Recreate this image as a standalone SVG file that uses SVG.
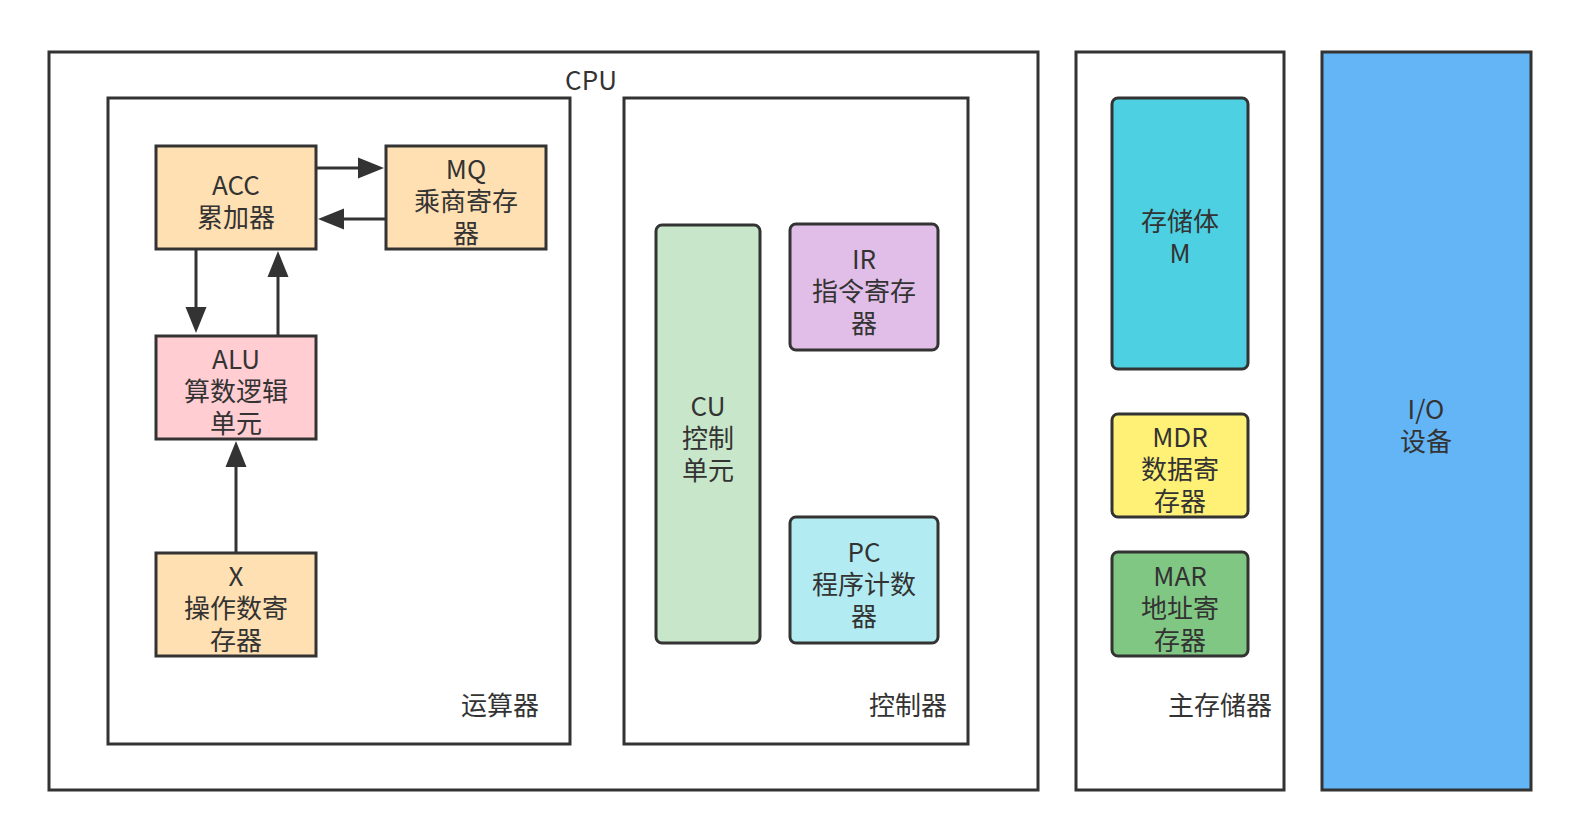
<svg xmlns="http://www.w3.org/2000/svg" width="1580" height="840" viewBox="0 0 1580 840">
<defs>
<style>
.box{stroke:#333333;stroke-width:3;}
.lbl{font-family:"Noto Sans CJK SC","Noto Sans",sans-serif;font-size:26px;fill:#333333;text-anchor:middle;}
.cap{font-family:"Noto Sans CJK SC","Noto Sans",sans-serif;font-size:26px;fill:#333333;}
.edge{stroke:#333333;stroke-width:3;fill:none;marker-end:url(#arr);}
</style>
<marker id="arr" markerUnits="userSpaceOnUse" markerWidth="30" markerHeight="24" viewBox="0 -12 30 24" refX="0" refY="0" orient="auto">
<path d="M0,-10.5 L26,0 L0,10.5 Z" fill="#333333"/>
</marker>
</defs>
<rect width="1580" height="840" fill="#ffffff"/>

<g id="cpu">
<rect class="box" x="49" y="52" width="989" height="738" fill="#ffffff"/>
<text class="lbl" x="591" y="90">CPU</text>
</g>

<g id="alu-unit">
<rect class="box" x="108" y="98" width="462" height="646" fill="#ffffff"/>
<text class="cap" x="539" y="715" text-anchor="end">运算器</text>
</g>

<g id="ctrl-unit">
<rect class="box" x="624" y="98" width="344" height="646" fill="#ffffff"/>
<text class="cap" x="947" y="715" text-anchor="end">控制器</text>
</g>

<g id="main-memory">
<rect class="box" x="1076" y="52" width="208" height="738" fill="#ffffff"/>
<text class="cap" x="1272" y="715" text-anchor="end">主存储器</text>
</g>

<g id="io">
<rect class="box" x="1322" y="52" width="209" height="738" fill="#64b5f6"/>
<text class="lbl" x="1426" y="419">I/O<tspan x="1426" dy="32">设备</tspan></text>
</g>

<g id="acc">
<rect class="box" x="156" y="146" width="160" height="103" fill="#ffe0b2"/>
<text class="lbl" x="236" y="195">ACC<tspan x="236" dy="32">累加器</tspan></text>
</g>

<g id="mq">
<rect class="box" x="386" y="146" width="160" height="103" fill="#ffe0b2"/>
<text class="lbl" x="466" y="179">MQ<tspan x="466" dy="32">乘商寄存</tspan><tspan x="466" dy="32">器</tspan></text>
</g>

<g id="alu">
<rect class="box" x="156" y="336" width="160" height="103" fill="#ffcdd2"/>
<text class="lbl" x="236" y="369">ALU<tspan x="236" dy="32">算数逻辑</tspan><tspan x="236" dy="32">单元</tspan></text>
</g>

<g id="x">
<rect class="box" x="156" y="553" width="160" height="103" fill="#ffe0b2"/>
<text class="lbl" x="236" y="586">X<tspan x="236" dy="32">操作数寄</tspan><tspan x="236" dy="32">存器</tspan></text>
</g>

<g id="cu">
<rect class="box" x="656" y="225" width="104" height="418" rx="6" fill="#c8e6c9"/>
<text class="lbl" x="708" y="416">CU<tspan x="708" dy="32">控制</tspan><tspan x="708" dy="32">单元</tspan></text>
</g>

<g id="ir">
<rect class="box" x="790" y="224" width="148" height="126" rx="6" fill="#e1bee7"/>
<text class="lbl" x="864" y="269">IR<tspan x="864" dy="32">指令寄存</tspan><tspan x="864" dy="32">器</tspan></text>
</g>

<g id="pc">
<rect class="box" x="790" y="517" width="148" height="126" rx="6" fill="#b2ebf2"/>
<text class="lbl" x="864" y="562">PC<tspan x="864" dy="32">程序计数</tspan><tspan x="864" dy="32">器</tspan></text>
</g>

<g id="storage">
<rect class="box" x="1112" y="98" width="136" height="271" rx="6" fill="#4dd0e1"/>
<text class="lbl" x="1180" y="231">存储体<tspan x="1180" dy="32">M</tspan></text>
</g>

<g id="mdr">
<rect class="box" x="1112" y="414" width="136" height="103" rx="6" fill="#fff176"/>
<text class="lbl" x="1180" y="447">MDR<tspan x="1180" dy="32">数据寄</tspan><tspan x="1180" dy="32">存器</tspan></text>
</g>

<g id="mar">
<rect class="box" x="1112" y="552" width="136" height="104" rx="6" fill="#81c784"/>
<text class="lbl" x="1180" y="586">MAR<tspan x="1180" dy="32">地址寄</tspan><tspan x="1180" dy="32">存器</tspan></text>
</g>

<g id="connectors">
<line class="edge" x1="317" y1="168" x2="358" y2="168"/>
<line class="edge" x1="385" y1="219" x2="344" y2="219"/>
<line class="edge" x1="196" y1="250" x2="196" y2="307"/>
<line class="edge" x1="278" y1="335" x2="278" y2="277"/>
<line class="edge" x1="236" y1="552" x2="236" y2="467"/>
</g>
</svg>
